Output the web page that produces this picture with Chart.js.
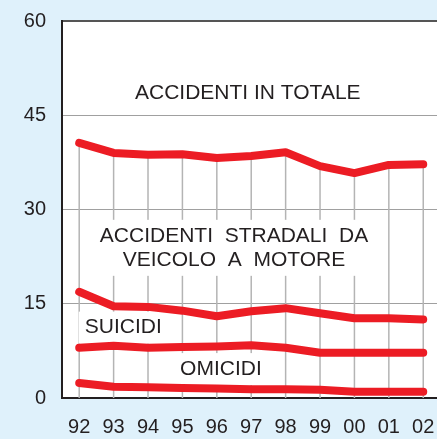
<!DOCTYPE html>
<html>
<head>
<meta charset="utf-8">
<script src="https://cdn.jsdelivr.net/npm/chart.js@4"></script>
<style>
  html, body { margin: 0; padding: 0; background: #dff1fb; }
  #wrap { width: 437px; height: 439px; }
</style>
</head>
<body>
<div id="wrap"><canvas id="c" width="437" height="439"></canvas></div>
<script>
const years = ['92', '93', '94', '95', '96', '97', '98', '99', '00', '01', '02']
const totale = [40.6, 39.0, 38.7, 38.8, 38.2, 38.5, 39.1, 36.9, 35.8, 37.1, 37.2]
const stradali = [16.9, 14.6, 14.5, 13.9, 13.0, 13.8, 14.3, 13.5, 12.7, 12.7, 12.5]
const suicidi = [8.0, 8.3, 8.0, 8.1, 8.2, 8.4, 8.0, 7.2, 7.2, 7.2, 7.2]
const omicidi = [2.4, 1.8, 1.7, 1.6, 1.5, 1.4, 1.4, 1.3, 1.0, 1.0, 1.0]
const yTicks = [0, 15, 30, 45, 60]

// text labels, placed in data units (x = year index, y = value)
const notes = [
    { lines: ['ACCIDENTI IN TOTALE'], x: 4.9, y: 48.5 },
    { lines: ['ACCIDENTI  STRADALI  DA', 'VEICOLO  A  MOTORE'], x: 4.5, y: 23.9 },
    { lines: ['SUICIDI'], x: 1.28, y: 11.2 },
    { lines: ['OMICIDI'], x: 4.12, y: 4.6 },
]

const FONT = '"Liberation Sans", Arial, Helvetica, sans-serif'
const RED = '#ec1c24'

const toPoints = arr => arr.map((v, i) => ({ x: i, y: v }))

const panel = {
    id: 'panel',
    beforeDraw(chart) {
        const { ctx, chartArea: a } = chart
        ctx.save()
        ctx.fillStyle = '#dff1fb'
        ctx.fillRect(0, 0, chart.width, chart.height)
        ctx.fillStyle = '#ffffff'
        ctx.fillRect(a.left, a.top, a.right - a.left, a.bottom - a.top)
        ctx.restore()
    },
    beforeDatasetsDraw(chart) {
        const { ctx, chartArea: a, scales } = chart
        ctx.save()
        // vertical guides from the top series down to the base
        ctx.strokeStyle = '#b4b4b4'
        ctx.lineWidth = 1.5
        totale.forEach((v, i) => {
            const x = scales.x.getPixelForValue(i)
            ctx.beginPath()
            ctx.moveTo(x, scales.y.getPixelForValue(v))
            ctx.lineTo(x, a.bottom)
            ctx.stroke()
        })
        // labels with white boxes
        ctx.font = '21px ' + FONT
        ctx.textAlign = 'center'
        ctx.textBaseline = 'middle'
        const lh = 24
        notes.forEach(n => {
            const cx = scales.x.getPixelForValue(n.x)
            const cy = scales.y.getPixelForValue(n.y)
            const w = Math.max(...n.lines.map(l => ctx.measureText(l).width))
            const h = n.lines.length * lh
            ctx.fillStyle = '#ffffff'
            ctx.fillRect(cx - w / 2 - 6, cy - h / 2 - 4, w + 12, h + 8)
            ctx.fillStyle = '#231f20'
            n.lines.forEach((l, k) => {
                ctx.fillText(l, cx, cy - h / 2 + lh / 2 + k * lh)
            })
        })
        ctx.restore()
    }
}

const ds = data => ({
    data: toPoints(data),
    borderColor: RED,
    borderWidth: 8,
    borderCapStyle: 'round',
    borderJoinStyle: 'round',
    pointRadius: 0,
    tension: 0,
})

const ctx = document.getElementById('c').getContext('2d')
new Chart(ctx, {
    type: 'line',
    data: {
        datasets: [ds(totale), ds(stradali), ds(suicidi), ds(omicidi)]
    },
    options: {
        responsive: false,
        animation: false,
        layout: { padding: { top: 21, right: 0, left: 0, bottom: 0 } },
        plugins: { legend: { display: false }, tooltip: { enabled: false } },
        scales: {
            x: {
                type: 'linear',
                min: -0.5,
                max: 10.4,
                afterFit: s => { s.height = 41; s.paddingLeft = 0; s.paddingRight = 0 },
                afterBuildTicks: s => { s.ticks = years.map((y, i) => ({ value: i })) },
                grid: { display: false },
                border: { display: false },
                ticks: {
                    color: '#231f20',
                    font: { family: FONT, size: 20 },
                    padding: 9,
                    maxRotation: 0,
                    autoSkip: false,
                    callback: v => years[v],
                }
            },
            y: {
                min: 0,
                max: 60,
                afterFit: s => { s.width = 62; s.paddingTop = 0; s.paddingBottom = 0 },
                afterBuildTicks: s => { s.ticks = yTicks.map(v => ({ value: v })) },
                grid: {
                    drawTicks: false,
                    color: c => (c.tick.value === 0 ? '#231f20' : c.tick.value === 60 ? '#555555' : '#a0a0a0'),
                    lineWidth: c => (c.tick.value === 0 || c.tick.value === 60 ? 2 : 1),
                },
                border: { display: true, color: '#231f20', width: 2 },
                ticks: {
                    color: '#231f20',
                    font: { family: FONT, size: 20 },
                    padding: 16,
                }
            }
        }
    },
    plugins: [panel]
})
</script>
</body>
</html>
